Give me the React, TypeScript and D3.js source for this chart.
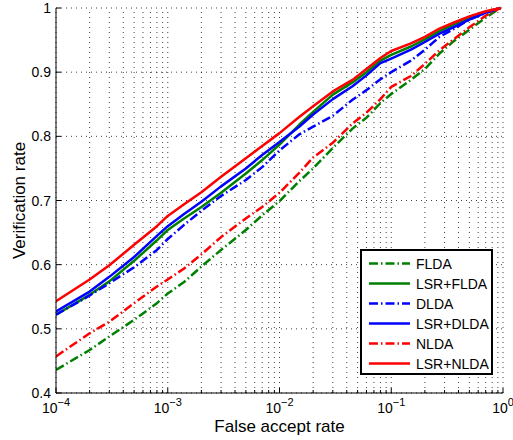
import * as d3 from "d3"
import React from "react"

// false accept rate sample points (shared by every curve)
const far = [1e-4, 2e-4, 3e-4, 5e-4, 8e-4, 1e-3, 1.4e-3, 2e-3, 3e-3, 5e-3, 7e-3, 1e-2, 1.5e-2, 2e-2, 3e-2, 4.5e-2, 6e-2, 8e-2, 0.1, 0.15, 0.2, 0.27, 0.36, 0.5, 0.7, 0.95]

const flda = [0.436, 0.467, 0.488, 0.514, 0.540, 0.555, 0.573, 0.597, 0.623, 0.654, 0.677, 0.699, 0.730, 0.750, 0.782, 0.812, 0.829, 0.852, 0.866, 0.888, 0.905, 0.929, 0.948, 0.966, 0.985, 1.0]
const lsrFlda = [0.522, 0.553, 0.574, 0.606, 0.638, 0.654, 0.672, 0.690, 0.712, 0.742, 0.763, 0.787, 0.818, 0.838, 0.865, 0.884, 0.900, 0.918, 0.927, 0.940, 0.951, 0.964, 0.974, 0.985, 0.994, 1.0]
const dlda = [0.522, 0.552, 0.571, 0.596, 0.623, 0.640, 0.662, 0.684, 0.707, 0.732, 0.752, 0.778, 0.803, 0.815, 0.832, 0.857, 0.872, 0.889, 0.900, 0.918, 0.935, 0.955, 0.967, 0.982, 0.992, 1.0]
const lsrDlda = [0.527, 0.558, 0.581, 0.612, 0.645, 0.660, 0.679, 0.698, 0.722, 0.750, 0.771, 0.791, 0.815, 0.834, 0.858, 0.878, 0.895, 0.914, 0.921, 0.935, 0.947, 0.960, 0.970, 0.982, 0.993, 1.0]
const nlda = [0.457, 0.493, 0.511, 0.540, 0.566, 0.577, 0.594, 0.616, 0.643, 0.672, 0.690, 0.712, 0.743, 0.767, 0.790, 0.820, 0.837, 0.858, 0.877, 0.894, 0.913, 0.934, 0.951, 0.970, 0.988, 1.0]
const lsrNlda = [0.543, 0.577, 0.599, 0.631, 0.660, 0.676, 0.694, 0.713, 0.737, 0.766, 0.785, 0.805, 0.830, 0.847, 0.870, 0.888, 0.905, 0.922, 0.933, 0.945, 0.955, 0.968, 0.977, 0.987, 0.995, 1.0]

const seriesNames = ["FLDA", "LSR+FLDA", "DLDA", "LSR+DLDA", "NLDA", "LSR+NLDA"]
const seriesValues = [flda, lsrFlda, dlda, lsrDlda, nlda, lsrNlda]
const seriesColors = ["#008000", "#008000", "#0000ff", "#0000ff", "#ff0000", "#ff0000"]
const seriesDashed = [true, false, true, false, true, false]

const xTickExps = [-4, -3, -2, -1, 0]
const yTicks = [0.4, 0.5, 0.6, 0.7, 0.8, 0.9, 1]

const W = 513
const H = 440
const margin = { left: 56, right: 10, top: 8, bottom: 47 }
const font = "'Liberation Sans', Arial, Helvetica, sans-serif"
const dashDot = "9,3,1.5,3"

const App = () => {
    const x = d3.scaleLog().domain([1e-4, 1]).range([margin.left, W - margin.right])
    const y = d3.scaleLinear().domain([0.4, 1]).range([H - margin.bottom, margin.top])
    const [x0, x1] = x.range()
    const [y0, y1] = y.range()

    // minor + major grid positions on the log axis
    const xGrid: number[] = []
    for (let e = -4; e < 0; e++) {
        for (let m = 1; m < 10; m++) xGrid.push(m * Math.pow(10, e))
    }
    xGrid.push(1)

    const line = d3.line<[number, number]>()
        .x(d => x(d[0]))
        .y(d => y(d[1]))

    const legend = { x: 361, y: 250, w: 131, h: 124, row: 20 }

    return (
        <svg width={W} height={H} style={{ position: "fixed", left: 0, top: 0, background: "#fff" }}
            fontFamily={font}>
            <rect width={W} height={H} fill="#fff" />

            {/* grid */}
            <g stroke="#111" strokeWidth={0.8} strokeDasharray="1,4">
                {xGrid.map((v, i) => (
                    <line key={"gx" + i} x1={x(v)} x2={x(v)} y1={y0} y2={y1} />
                ))}
                {yTicks.map(v => (
                    <line key={"gy" + v} x1={x0} x2={x1} y1={y(v)} y2={y(v)} />
                ))}
            </g>

            {/* curves */}
            <g fill="none" clipPath="url(#plotClip)">
                {seriesValues.map((vals, i) => (
                    <path key={seriesNames[i]}
                        d={line(far.map((f, j) => [f, vals[j]] as [number, number])) || ""}
                        stroke={seriesColors[i]}
                        strokeWidth={2.5}
                        strokeDasharray={seriesDashed[i] ? dashDot : undefined}
                        strokeLinejoin="round" />
                ))}
            </g>

            {/* axes */}
            <g stroke="#000" strokeWidth={1}>
                <line x1={x0} x2={x0} y1={y0} y2={y1} />
                <line x1={x0} x2={x1} y1={y0} y2={y0} />
                {yTicks.map(v => (
                    <line key={"ty" + v} x1={x0} x2={x0 + 5} y1={y(v)} y2={y(v)} />
                ))}
                {xGrid.map((v, i) => {
                    const major = Math.abs(Math.log10(v) - Math.round(Math.log10(v))) < 1e-9
                    return <line key={"tx" + i} x1={x(v)} x2={x(v)} y1={y0} y2={y0 - (major ? 5 : 3)} />
                })}
            </g>

            {/* tick labels */}
            <g fontSize={14} fill="#000">
                {yTicks.map(v => (
                    <text key={"ly" + v} x={x0 - 5} y={y(v) + 5} textAnchor="end">{d3.format("~g")(v)}</text>
                ))}
                {xTickExps.map(e => (
                    <text key={"lx" + e} x={x(Math.pow(10, e))} y={413} textAnchor="middle">
                        10<tspan fontSize={11} dy={-7.5}>{e < 0 ? "\u2212" + Math.abs(e) : String(e)}</tspan>
                    </text>
                ))}
            </g>

            {/* axis titles */}
            <text x={(x0 + x1) / 2} y={432} textAnchor="middle" fontSize={17}>False accept rate</text>
            <text transform={`translate(25, ${(y0 + y1) / 2}) rotate(-90)`} textAnchor="middle" fontSize={17}>
                Verification rate
            </text>

            {/* legend */}
            <g>
                <rect x={legend.x} y={legend.y} width={legend.w} height={legend.h}
                    fill="#fff" stroke="#000" strokeWidth={2} />
                {seriesNames.map((name, i) => {
                    const ry = legend.y + 13.5 + i * legend.row
                    return (
                        <g key={"lg" + name}>
                            <line x1={legend.x + 8} x2={legend.x + 49} y1={ry} y2={ry}
                                stroke={seriesColors[i]} strokeWidth={2.5}
                                strokeDasharray={seriesDashed[i] ? dashDot : undefined} />
                            <text x={legend.x + 55} y={ry + 5} fontSize={14}>{name}</text>
                        </g>
                    )
                })}
            </g>

            <defs>
                <clipPath id="plotClip">
                    <rect x={x0} y={y1 - 2} width={x1 - x0 + 2} height={y0 - y1 + 2} />
                </clipPath>
            </defs>
        </svg>
    )
}

export default App
